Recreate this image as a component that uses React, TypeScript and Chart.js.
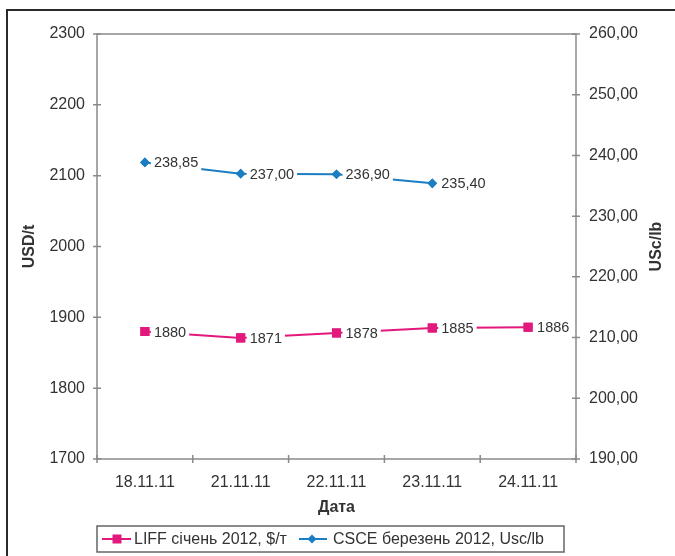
import React, { useEffect, useRef } from "react";
import { Chart, registerables } from "chart.js";

Chart.register(...registerables);

const categories = ["18.11.11", "21.11.11", "22.11.11", "23.11.11", "24.11.11"];
const liffValues = [1880, 1871, 1878, 1885, 1886];
const csceValues: (number | null)[] = [238.85, 237.0, 236.9, 235.4, null];
const liffLabel = "LIFF січень 2012, $/т";
const csceLabel = "CSCE березень 2012, Usc/lb";
const leftTitle = "USD/t";
const rightTitle = "USc/lb";
const xTitle = "Дата";

const PINK = "#E2187C";
const BLUE = "#1B7DC2";
const AXIS = "#8a8a8a";
const TEXT = "#333333";
const FONT = "'Liberation Sans', Arial, sans-serif";

const fmtComma = (v: number) => v.toFixed(2).replace(".", ",");

const decorPlugin = {
  id: "decor",
  beforeDatasetsDraw(chart: any) {
    const ctx = chart.ctx;
    const { left, right, top, bottom } = chart.chartArea;
    ctx.save();
    // outer frame (top + left)
    ctx.strokeStyle = "#2a2a2a";
    ctx.lineWidth = 2;
    ctx.beginPath();
    ctx.moveTo(7, 556);
    ctx.lineTo(7, 10);
    ctx.lineTo(675, 10);
    ctx.stroke();

    // plot frame
    ctx.strokeStyle = AXIS;
    ctx.lineWidth = 1.5;
    ctx.beginPath();
    ctx.moveTo(left, bottom);
    ctx.lineTo(left, top);
    ctx.lineTo(right, top);
    ctx.lineTo(right, bottom);
    ctx.lineTo(left, bottom);
    ctx.stroke();

    // ticks crossing the axes
    const y = chart.scales.y;
    ctx.beginPath();
    y.ticks.forEach((t: any) => {
      const py = y.getPixelForValue(t.value);
      ctx.moveTo(left - 4, py);
      ctx.lineTo(left + 4, py);
    });
    const y1 = chart.scales.y1;
    y1.ticks.forEach((t: any) => {
      const py = y1.getPixelForValue(t.value);
      ctx.moveTo(right - 4, py);
      ctx.lineTo(right + 4, py);
    });
    const step = (right - left) / categories.length;
    for (let i = 0; i <= categories.length; i++) {
      const px = left + step * i;
      ctx.moveTo(px, bottom - 4);
      ctx.lineTo(px, bottom + 4);
    }
    ctx.stroke();

    // axis titles
    ctx.fillStyle = TEXT;
    ctx.font = `bold 16px ${FONT}`;
    ctx.textAlign = "center";
    ctx.textBaseline = "middle";
    ctx.fillText(xTitle, (left + right) / 2, 508);
    ctx.save();
    ctx.translate(30, (top + bottom) / 2);
    ctx.rotate(-Math.PI / 2);
    ctx.fillText(leftTitle, 0, 0);
    ctx.restore();
    ctx.save();
    ctx.translate(657, (top + bottom) / 2);
    ctx.rotate(-Math.PI / 2);
    ctx.fillText(rightTitle, 0, 0);
    ctx.restore();

    // legend
    ctx.strokeStyle = "#666";
    ctx.lineWidth = 1.5;
    ctx.strokeRect(97, 526, 467, 26);
    const ly = 539;
    ctx.lineWidth = 2;
    ctx.strokeStyle = PINK;
    ctx.beginPath();
    ctx.moveTo(102, ly);
    ctx.lineTo(131, ly);
    ctx.stroke();
    ctx.fillStyle = PINK;
    ctx.fillRect(117 - 4.5, ly - 4.5, 9, 9);
    ctx.strokeStyle = BLUE;
    ctx.beginPath();
    ctx.moveTo(299, ly);
    ctx.lineTo(327, ly);
    ctx.stroke();
    ctx.fillStyle = BLUE;
    ctx.beginPath();
    ctx.moveTo(312, ly - 4.5);
    ctx.lineTo(316.5, ly);
    ctx.lineTo(312, ly + 4.5);
    ctx.lineTo(307.5, ly);
    ctx.closePath();
    ctx.fill();
    ctx.fillStyle = TEXT;
    ctx.font = `16px ${FONT}`;
    ctx.textAlign = "left";
    ctx.fillText(liffLabel, 134, ly + 1);
    ctx.fillText(csceLabel, 333, ly + 1);
    ctx.restore();
  },
  afterDatasetsDraw(chart: any) {
    const ctx = chart.ctx;
    ctx.save();
    ctx.font = `14.5px ${FONT}`;
    ctx.textBaseline = "middle";
    ctx.textAlign = "left";
    const drawLabels = (dsIndex: number, fmt: (v: number) => string) => {
      const meta = chart.getDatasetMeta(dsIndex);
      const data = chart.data.datasets[dsIndex].data as (number | null)[];
      meta.data.forEach((pt: any, i: number) => {
        const v = data[i];
        if (v === null || v === undefined) return;
        const text = fmt(v);
        const w = ctx.measureText(text).width;
        const tx = pt.x + 9;
        ctx.fillStyle = "#ffffff";
        ctx.fillRect(tx - 3, pt.y - 8, w + 6, 16);
        ctx.fillStyle = TEXT;
        ctx.fillText(text, tx, pt.y + 1);
      });
    };
    drawLabels(0, (v) => String(v));
    drawLabels(1, fmtComma);
    [0, 1].forEach((d) => {
      chart.getDatasetMeta(d).data.forEach((pt: any) => {
        if (!pt.skip) pt.draw(ctx, chart.chartArea);
      });
    });
    ctx.restore();
  },
};

export default function App() {
  const ref = useRef<HTMLCanvasElement | null>(null);
  useEffect(() => {
    if (!ref.current) return;
    const chart = new Chart(ref.current, {
      type: "line",
      data: {
        labels: categories,
        datasets: [
          {
            label: liffLabel,
            data: liffValues,
            yAxisID: "y",
            borderColor: PINK,
            backgroundColor: PINK,
            borderWidth: 2,
            pointStyle: "rect",
            pointRadius: 6.4,
            pointBorderWidth: 0,
            tension: 0,
          },
          {
            label: csceLabel,
            data: csceValues,
            yAxisID: "y1",
            borderColor: BLUE,
            backgroundColor: BLUE,
            borderWidth: 2,
            pointStyle: "rectRot",
            pointRadius: 4.8,
            pointBorderWidth: 0,
            tension: 0,
          },
        ],
      },
      options: {
        responsive: false,
        animation: false,
        layout: { padding: { top: 34, left: 0, right: 0, bottom: 0 } },
        plugins: {
          legend: { display: false },
          tooltip: { enabled: false },
        },
        scales: {
          x: {
            type: "category",
            offset: true,
            grid: { display: false },
            border: { display: false },
            ticks: {
              color: TEXT,
              font: { family: FONT, size: 16 },
              padding: 6,
              maxRotation: 0,
            },
            afterFit: (s: any) => {
              s.height = 97;
            },
          },
          y: {
            position: "left",
            min: 1700,
            max: 2300,
            grid: { display: false },
            border: { display: false },
            ticks: {
              stepSize: 100,
              color: TEXT,
              font: { family: FONT, size: 16 },
              padding: 4,
              callback: (v: any) => String(v),
            },
            afterFit: (s: any) => {
              s.width = 97;
            },
          },
          y1: {
            position: "right",
            min: 190,
            max: 260,
            grid: { display: false },
            border: { display: false },
            ticks: {
              stepSize: 10,
              color: TEXT,
              font: { family: FONT, size: 16 },
              padding: 5,
              callback: (v: any) => fmtComma(Number(v)),
            },
            afterFit: (s: any) => {
              s.width = 99;
            },
          },
        },
      },
      plugins: [decorPlugin],
    } as any);
    return () => chart.destroy();
  }, []);
  return (
    <div style={{ position: "absolute", left: 0, top: 0, width: 675, height: 556, background: "#fff" }}>
      <canvas ref={ref} width={675} height={556} style={{ display: "block" }} />
    </div>
  );
}
